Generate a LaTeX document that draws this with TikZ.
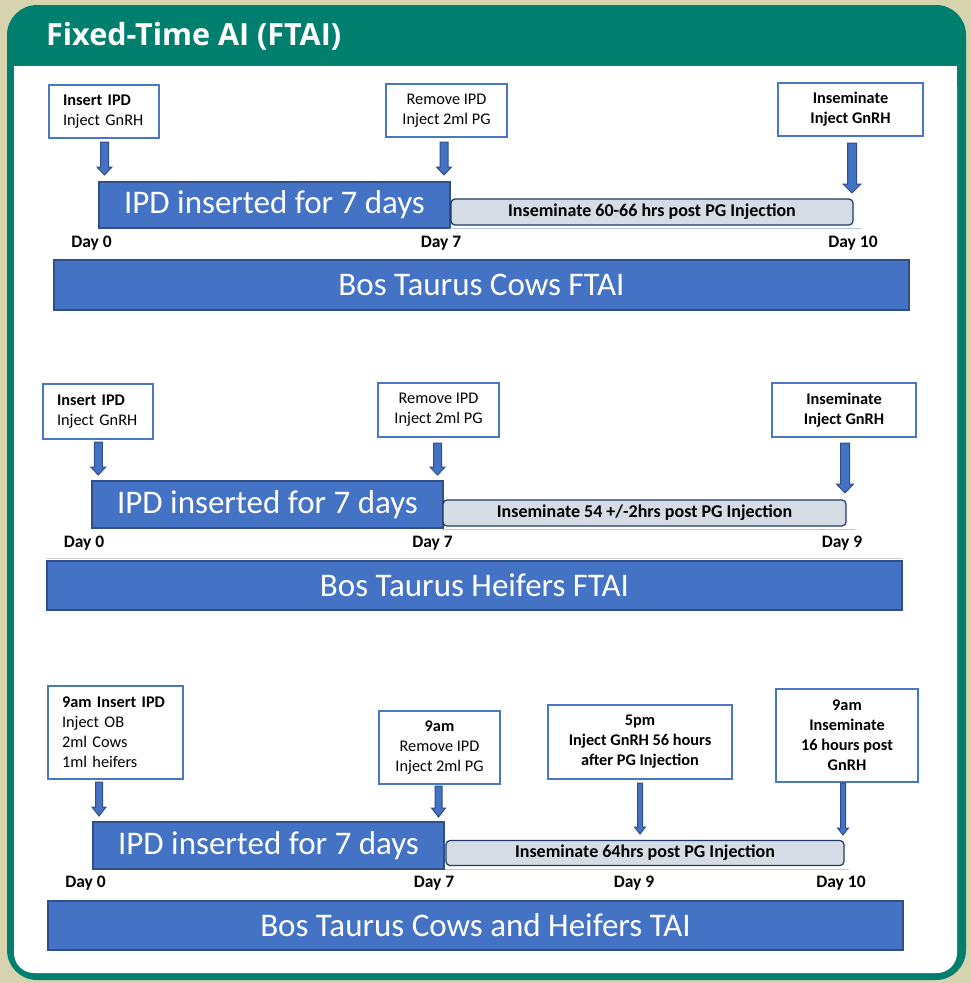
\documentclass[tikz,border=0pt]{standalone}
\usepackage{fontspec}
\setmainfont{Carlito}
\newfontfamily\titlefont{Open Sans}
\usetikzlibrary{calc}
\definecolor{bgbeige}{HTML}{D7D3AF}
\definecolor{frameteal}{HTML}{007F6F}
\definecolor{barblue}{HTML}{4472C4}
\definecolor{bardark}{HTML}{2F4F86}
\definecolor{greyfill}{HTML}{D6DCE5}
\definecolor{greydark}{HTML}{1F3864}
\definecolor{boxblue}{HTML}{4A76C6}
\definecolor{thinblue}{HTML}{B4C7E7}
\definecolor{thingrey}{HTML}{C9CCD2}
\newcommand{\blockarrow}[7]{%
  \coordinate (#1) at (#2,#4);
  \filldraw[arrowst] (#2-#5,#3) -- (#2+#5,#3) -- (#2+#5,#4-#7) -- (#2+#6,#4-#7)
    -- (#2,#4) -- (#2-#6,#4-#7) -- (#2-#5,#4-#7) -- cycle;}
\begin{document}
\begin{tikzpicture}[x=1pt,y=-1pt,
  evbox/.style={draw=boxblue, line width=1.3pt, fill=white, inner sep=0pt,
    font=\fontsize{16.3}{20}\selectfont, text=black, align=center},
  lbox/.style={evbox, align=left},
  bluebar/.style={draw=bardark, line width=1.2pt, fill=barblue, text=white, inner sep=0pt,
    font=\fontsize{33}{38}\selectfont},
  greybar/.style={draw=greydark, line width=1.2pt, fill=greyfill, rounded corners=4pt, inner sep=0pt,
    font=\fontsize{18}{20}\selectfont\bfseries},
  daylbl/.style={font=\fontsize{17.5}{20}\selectfont\bfseries, inner sep=0pt},
  band/.style={draw=bardark, line width=1.2pt, fill=barblue, text=white, inner sep=0pt,
    font=\fontsize{33}{38}\selectfont},
  arrowst/.style={fill=barblue, draw=bardark, line width=1pt, line join=miter},
  thinline/.style={draw=thinblue, line width=0.9pt},
  greyline/.style={draw=thingrey, line width=1pt}]
\fill[bgbeige] (0,0) rectangle (971,983);
\useasboundingbox (0,0) rectangle (971,983);
\fill[frameteal, rounded corners=30pt] (7,5) rectangle (966,980);
\fill[white, rounded corners=20pt] (14,66) rectangle (957,973);
\fill[white] (14,66) rectangle (957,120);
\node[anchor=base west, text=white, inner sep=0pt, font=\titlefont\fontsize{30.5}{36}\selectfont\bfseries] (title) at (46,45) {Fixed-Time AI (FTAI)};

% ---------------- Section 1 ----------------
\node[lbox, text width=82pt, minimum width=110pt, minimum height=53pt] (s1b1) at (104,111.5) {\textbf{Insert IPD}\\Inject GnRH};
\node[evbox, minimum width=121pt, minimum height=53pt] (s1b2) at (446.5,110.5) {Remove IPD\\Inject 2ml PG};
\node[evbox, minimum width=145pt, minimum height=53pt, font=\fontsize{16.3}{20}\selectfont\bfseries] (s1b3) at (850.5,109.5) {Inseminate\\Inject GnRH};
\blockarrow{s1a1}{104.5}{142}{175}{4}{7.5}{8}
\blockarrow{s1a2}{444}{142}{175}{4}{7.5}{8}
\blockarrow{s1a3}{852}{143}{193}{4.5}{9}{9}
\node[bluebar, minimum width=351pt, minimum height=46pt] (s1bar) at (274.5,205) {IPD inserted for 7 days};
\node[greybar, minimum width=402pt, minimum height=26pt] (s1grey) at (652,212) {Inseminate 60-66 hrs post PG Injection};
\draw[thinline] ($(s1grey.south west)+(0,3)$) coordinate (s1l1) -- ($(s1grey.south east)+(8,3)$) coordinate (s1l2);
\node[daylbl] (s1d0) at (91.5,243) {Day 0};
\node[daylbl] (s1d7) at (441,243) {Day 7};
\node[daylbl] (s1d10) at (853,243) {Day 10};
\node[band, minimum width=855pt, minimum height=50pt] (s1band) at (481.5,285) {Bos Taurus Cows FTAI};

% ---------------- Section 2 ----------------
\node[lbox, text width=82pt, minimum width=110pt, minimum height=55pt] (s2b1) at (98,411.5) {\textbf{Insert IPD}\\Inject GnRH};
\node[evbox, minimum width=121pt, minimum height=54pt] (s2b2) at (438.5,410) {Remove IPD\\Inject 2ml PG};
\node[evbox, minimum width=144pt, minimum height=54pt, font=\fontsize{16.3}{20}\selectfont\bfseries] (s2b3) at (844,410) {Inseminate\\Inject GnRH};
\blockarrow{s2a1}{98.3}{442}{475}{4}{7.5}{8}
\blockarrow{s2a2}{437.5}{443}{475}{4}{7.5}{8}
\blockarrow{s2a3}{845}{443}{493}{4.5}{8.5}{9}
\node[bluebar, minimum width=351pt, minimum height=47pt] (s2bar) at (267.5,504.5) {IPD inserted for 7 days};
\node[greybar, minimum width=403pt, minimum height=26pt] (s2grey) at (644.5,513) {Inseminate 54 +/-2hrs post PG Injection};
\draw[thinline] ($(s2grey.south west)+(0,3)$) coordinate (s2l1) -- ($(s2grey.south east)+(8,3)$) coordinate (s2l2);
\node[daylbl] (s2d0) at (84,543) {Day 0};
\node[daylbl] (s2d7) at (432.5,543) {Day 7};
\node[daylbl] (s2d9) at (842,543) {Day 9};
\node[band, minimum width=855pt, minimum height=49pt] (s2band) at (474.5,585.5) {Bos Taurus Heifers FTAI};
\draw[greyline] ($(s2band.north west)+(0,-2)$) coordinate (s2g1) -- ($(s2band.north east)+(0,-2)$) coordinate (s2g2);

% ---------------- Section 3 ----------------
\node[lbox, text width=107pt, minimum width=135pt, minimum height=93pt] (s3b1) at (115.5,732.5) {\textbf{9am Insert IPD}\\Inject OB\\2ml Cows\\1ml heifers};
\node[evbox, minimum width=121pt, minimum height=73pt] (s3b2) at (439.5,747.5) {\textbf{9am}\\Remove IPD\\Inject 2ml PG};
\node[evbox, minimum width=184pt, minimum height=74pt, font=\fontsize{16.3}{20}\selectfont\bfseries] (s3b3) at (640,742) {5pm\\Inject GnRH 56 hours\\after PG Injection};
\node[evbox, minimum width=142pt, minimum height=93pt, font=\fontsize{16.3}{20}\selectfont\bfseries] (s3b4) at (847,735.5) {9am\\Inseminate\\16 hours post\\GnRH};
\blockarrow{s3a1}{99}{782}{816}{3.5}{7}{9}
\blockarrow{s3a2}{438.5}{786}{817}{3.5}{7}{9}
\blockarrow{s3a3}{640}{783}{834}{2.5}{5.5}{7}
\blockarrow{s3a4}{843}{783}{835}{2.5}{5.5}{7}
\node[bluebar, minimum width=351pt, minimum height=47pt] (s3bar) at (268.5,845.5) {IPD inserted for 7 days};
\node[greybar, minimum width=398pt, minimum height=25pt] (s3grey) at (645,853) {Inseminate 64hrs post PG Injection};
\draw[thinline] ($(s3grey.south west)+(0,3)$) coordinate (s3l1) -- ($(s3grey.south east)+(4,3)$) coordinate (s3l2);
\node[daylbl] (s3d0) at (85.5,883) {Day 0};
\node[daylbl] (s3d7) at (434,883) {Day 7};
\node[daylbl] (s3d9) at (634,883) {Day 9};
\node[daylbl] (s3d10) at (841,883) {Day 10};
\node[band, minimum width=855pt, minimum height=49pt] (s3band) at (475.5,925.5) {Bos Taurus Cows and Heifers TAI};
\end{tikzpicture}
\end{document}
